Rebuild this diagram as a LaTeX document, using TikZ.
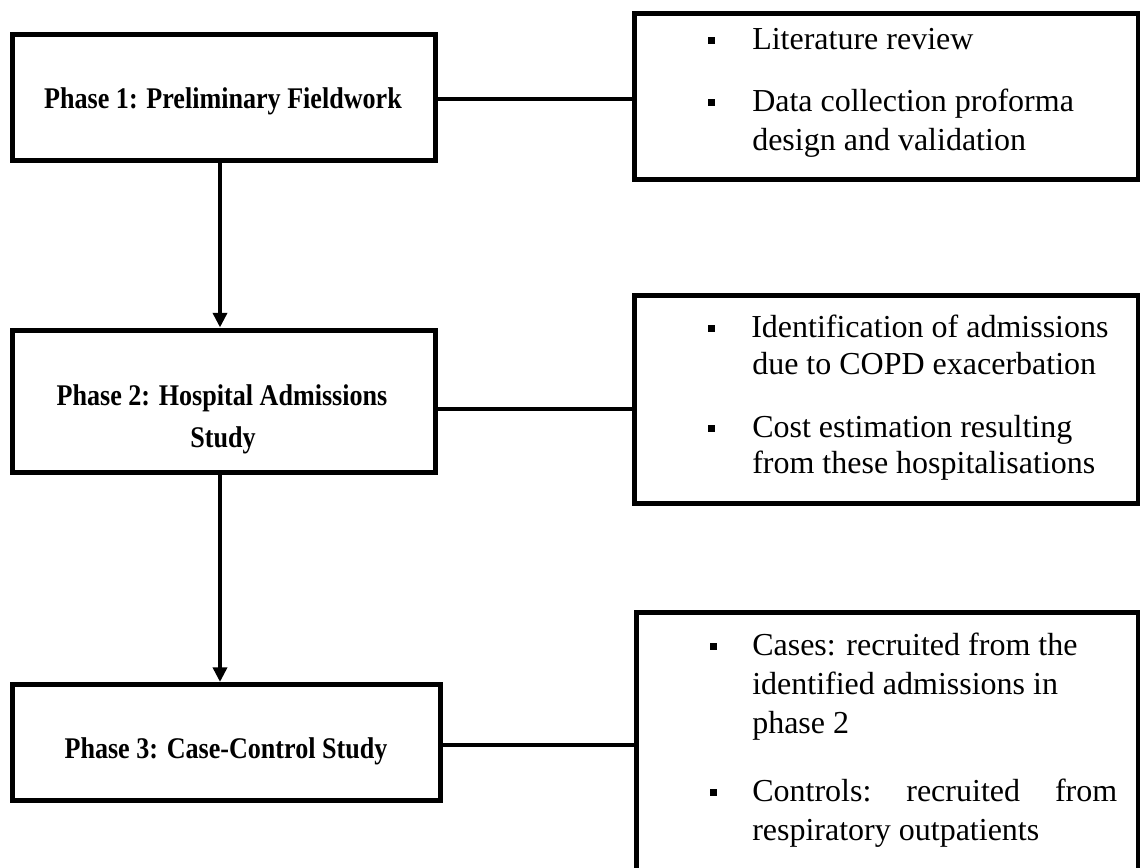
\documentclass[tikz,border=0pt]{standalone}
\usepackage{fontspec}
\setmainfont{Liberation Serif}
\newfontfamily\phasefont{Liberation Serif}[FakeStretch=0.87]
\usetikzlibrary{arrows.meta,fit}
\begin{document}
\begin{tikzpicture}[x=0.75pt,y=-0.75pt,
  boxstyle/.style={draw=black,line width=3.75pt,inner sep=0pt,outer sep=0pt,fill=white},
  phasetext/.style={inner sep=0pt,anchor=base,font=\phasefont\bfseries\fontsize{22.5pt}{26pt}\selectfont},
  itemtext/.style={inner sep=0pt,anchor=base west,font=\fontsize{24pt}{28pt}\selectfont},
  link/.style={draw=black,line width=3.6pt},
  flow/.style={draw=black,line width=3.6pt,-{Triangle[width=10.5pt,length=11pt]},shorten >=1.9pt},
  bulletsq/.style={fill=black}
]
\useasboundingbox (0,0) rectangle (1140,868);
\clip (0,0) rectangle (1140,868);
\fill[white] (0,0) rectangle (1140,868);

% left phase boxes
\node[boxstyle,fit={(12,34.5) (435,160)}] (p1) {};
\node[boxstyle,fit={(12,330) (435,472)}] (p2) {};
\node[boxstyle,fit={(12,684.5) (440,800)}] (p3) {};

% right detail boxes
\node[boxstyle,fit={(634,13) (1138,179)}] (r1) {};
\node[boxstyle,fit={(634,295) (1138,503)}] (r2) {};
\node[boxstyle,fit={(636,612) (1138,920)}] (r3) {};

% connector levels
\coordinate (c1) at (0,99);
\coordinate (c2) at (0,409);
\coordinate (c3) at (0,745);
\coordinate (ax) at (220,0);

\draw[link] (p1.east |- c1) -- (r1.west |- c1);
\draw[link] (p2.east |- c2) -- (r2.west |- c2);
\draw[link] (p3.east |- c3) -- (r3.west |- c3);

\draw[flow] (p1.south -| ax) -- (p2.north -| ax);
\draw[flow] (p2.south -| ax) -- (p3.north -| ax);

% phase texts
\node[phasetext] (t1) at (223,108) {Phase 1: Preliminary Fieldwork};
\node[phasetext] (t2a) at (222,405) {Phase 2: Hospital Admissions};
\node[phasetext] (t2b) at (223,447) {Study};
\node[phasetext] (t3) at (226,758) {Phase 3: Case-Control Study};

% box 1 items
\fill[bulletsq] (707.5,36.5) rectangle (714.5,43.5);
\node[itemtext] (a1) at (752,49) {Literature review};
\fill[bulletsq] (707.5,98.5) rectangle (714.5,105.5);
\node[itemtext] (a2) at (752,111) {Data collection proforma};
\node[itemtext] (a3) at (752,150) {design and validation};

% box 2 items
\fill[bulletsq] (707.5,324.5) rectangle (714.5,331.5);
\node[itemtext] (b1) at (751,337) {Identification of admissions};
\node[itemtext] (b2) at (752,374) {due to COPD exacerbation};
\fill[bulletsq] (707.5,424.5) rectangle (714.5,431.5);
\node[itemtext] (b3) at (752,437) {Cost estimation resulting};
\node[itemtext] (b4) at (752,473) {from these hospitalisations};

% box 3 items
\fill[bulletsq] (709.5,642.5) rectangle (716.5,649.5);
\node[itemtext] (d1) at (752,655) {Cases: recruited from the};
\node[itemtext] (d2) at (752,694) {identified admissions in};
\node[itemtext] (d3) at (752,733) {phase 2};
\fill[bulletsq] (709.5,788.5) rectangle (716.5,795.5);
\node[itemtext] (d4) at (752,801) {\makebox[273.75pt][s]{Controls:\hfill recruited\hfill from}};
\node[itemtext] (d5) at (752,840) {respiratory outpatients};
\end{tikzpicture}
\end{document}
